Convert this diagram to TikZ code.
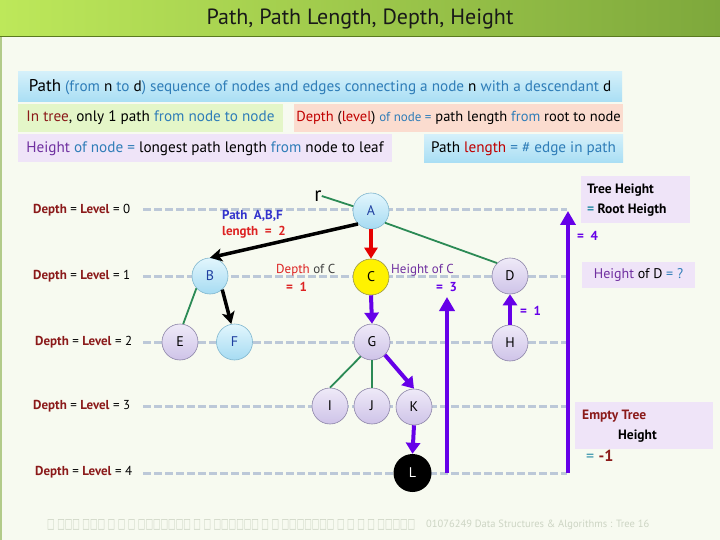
\documentclass[tikz,border=0pt]{standalone}
\usepackage{fontspec}
\setmainfont{PT Sans}
\newfontfamily\dejavu{DejaVu Sans}
\usetikzlibrary{arrows.meta}
\definecolor{bgc}{HTML}{F7FAF0}
\definecolor{dr}{HTML}{8B1A1A}
\definecolor{rd}{HTML}{C00000}
\definecolor{bt}{HTML}{2F7DB8}
\definecolor{pu}{HTML}{7030A0}
\definecolor{vio}{HTML}{6600E8}
\definecolor{grn}{HTML}{2B8A55}
\definecolor{dashc}{HTML}{BCC8D8}
\definecolor{nblue}{HTML}{1F3FA0}
\definecolor{lbtop}{HTML}{E2F6FD}
\definecolor{lbbot}{HTML}{A6DBF2}
\definecolor{lbdraw}{HTML}{7FB6CE}
\definecolor{lvtop}{HTML}{EFEAF8}
\definecolor{lvbot}{HTML}{CEC3E8}
\definecolor{lvdraw}{HTML}{8C84A8}
\definecolor{foot}{HTML}{CDD5C4}
\definecolor{tgl}{HTML}{BDE85A}
\definecolor{tgr}{HTML}{7EA83C}
\definecolor{tline}{HTML}{5A7A20}
\definecolor{boxblueT}{HTML}{D4F0FA}
\definecolor{boxblueB}{HTML}{A9DEF4}
\definecolor{boxgreen}{HTML}{E4F6C8}
\definecolor{boxpink}{HTML}{FBDCCF}
\definecolor{boxlav}{HTML}{EFE4F8}
\definecolor{pathblue}{HTML}{3333CC}
\definecolor{lblred}{HTML}{DD2222}
\definecolor{tealeq}{HTML}{2F8FA8}
\begin{document}
\begin{tikzpicture}[x=1pt,y=-1pt,
  every node/.style={inner sep=0pt},
  bnode/.style={circle, minimum size=36pt, draw=lbdraw, line width=0.6pt, top color=lbtop, bottom color=lbbot, font=\fontsize{14}{14}\selectfont, text=nblue},
  lnode/.style={circle, minimum size=36pt, draw=lvdraw, line width=0.6pt, top color=lvtop, bottom color=lvbot, font=\fontsize{14}{14}\selectfont, text=black},
  ynode/.style={circle, minimum size=36pt, draw=black!45!yellow, line width=0.6pt, fill=yellow, font=\fontsize{14}{14}\selectfont, text=black},
  knode/.style={circle, minimum size=38pt, fill=black, font=\fontsize{14}{14}\selectfont, text=white},
  gedge/.style={draw=grn, line width=1.8pt},
  barrow/.style={draw=black, line width=3.5pt, -{Stealth[length=12pt,width=13pt,inset=3pt]}},
  rarrow/.style={draw=red!90!black, line width=3.5pt, -{Triangle[length=11pt,width=13pt]}},
  parrow/.style={draw=vio, line width=4pt, -{Triangle[length=11pt,width=14pt]}},
  bigarrow/.style={draw=vio, line width=4pt, -{Triangle[length=14pt,width=15pt]}},
  dline/.style={draw=dashc, line width=3pt, dash pattern=on 8pt off 3pt},
  boxtxt/.style={font=\fontsize{15.2}{15.2}\selectfont},
  deplab/.style={anchor=west, font=\fontsize{13}{13}\selectfont},
]
\useasboundingbox (0,0) rectangle (720,540);
\fill[bgc] (0,0) rectangle (720,540);
\draw[line width=1.5pt, color=tgr!60!white] (1,37) -- (1,540);
% title bar
\shade[left color=tgl, right color=tgr] (0,0) rectangle (720,37);
\draw[tline, line width=1pt] (0,37) -- (720,37);
\node[font=\fontsize{22}{22}\selectfont, text=black!90] (title) at (360,19) {Path, Path Length, Depth, Height};

% info boxes
\node[boxtxt, top color=boxblueT, bottom color=boxblueB, minimum width=604pt, minimum height=30pt] (p1) at (320,87)
 {{\fontsize{17}{17}\selectfont Path} \textcolor{bt}{(from} n \textcolor{bt}{to} d\textcolor{bt}{)} \textcolor{bt}{sequence of nodes and edges connecting a node} n \textcolor{bt}{with a descendant} d};
\node[boxtxt, fill=boxgreen, minimum width=265pt, minimum height=28pt] (p2) at (150.5,118)
 {\textcolor{dr}{In tree}, only 1 path \textcolor{bt}{from node to node}};
\node[font=\fontsize{14.5}{14.5}\selectfont, fill=boxpink, minimum width=329pt, minimum height=28pt] (p3) at (458.5,118)
 {\textcolor{rd}{Depth} (\textcolor{rd}{level}) \textcolor{bt}{\fontsize{13}{13}\selectfont of node =} path length \textcolor{bt}{from} root to node};
\node[boxtxt, fill=boxlav, minimum width=374pt, minimum height=28pt] (p4) at (205,148.5)
 {\textcolor{pu}{Height} \textcolor{bt}{of node =} longest path length \textcolor{bt}{from} node to leaf};
\node[boxtxt, top color=boxblueT, bottom color=boxblueB, minimum width=199pt, minimum height=28pt] (p5) at (523.5,148.5)
 {Path \textcolor{rd}{length} \textcolor{bt}{= \# edge in path}};

% depth row labels
\node[deplab] (d0) at (33,210) {\textcolor{dr}{\bfseries Depth} = \textcolor{dr}{\bfseries Level} = 0};
\node[deplab] (d1) at (33,276) {\textcolor{dr}{\bfseries Depth} = \textcolor{dr}{\bfseries Level} = 1};
\node[deplab] (d2) at (35,342) {\textcolor{dr}{\bfseries Depth} = \textcolor{dr}{\bfseries Level} = 2};
\node[deplab] (d3) at (33,406) {\textcolor{dr}{\bfseries Depth} = \textcolor{dr}{\bfseries Level} = 3};
\node[deplab] (d4) at (35,472) {\textcolor{dr}{\bfseries Depth} = \textcolor{dr}{\bfseries Level} = 4};

% dashed level lines
\foreach \yy/\nm in {210/0,276/1,342/2,406/3,473/4}{
  \coordinate (ls\nm) at (143,\yy);
  \coordinate (le\nm) at (567,\yy);
  \draw[dline] (ls\nm) -- (le\nm);
}

% side boxes
\node[fill=boxlav, minimum width=109pt, minimum height=47pt] (thbox) at (635.5,199.5) {};
\node[anchor=west, align=left, font=\bfseries\fontsize{13.5}{20}\selectfont] (thtxt) at (587,200) {Tree Height\\\textcolor{tealeq}{=} Root Heigth};
\node[fill=boxlav, minimum width=113pt, minimum height=26pt, font=\fontsize{14}{14}\selectfont] (hdbox) at (638.5,275) {\textcolor{pu}{Height} of D \textcolor{bt}{= ?}};
\node[fill=boxlav, minimum width=138pt, minimum height=47pt] (etbox) at (644,425.5) {};
\node[anchor=west, font=\bfseries\fontsize{13.5}{14}\selectfont, text=dr] (ettxt1) at (582,416) {Empty Tree};
\node[anchor=west, font=\bfseries\fontsize{13.5}{14}\selectfont] (ettxt2) at (618,436) {Height};
\node[anchor=west, font=\fontsize{16}{16}\selectfont] (etval) at (586,456) {\textcolor{tealeq}{=} \textcolor{dr}{\bfseries -1}};

% tree nodes
\node[bnode] (A) at (371,211) {A};
\node[bnode] (B) at (210,276) {B};
\node[ynode] (C) at (371,277) {C};
\node[lnode] (D) at (510,276) {D};
\node[lnode] (E) at (180,342) {E};
\node[bnode] (F) at (234.5,342) {F};
\node[lnode] (G) at (372,342) {G};
\node[lnode] (H) at (510,343) {H};
\node[lnode] (I) at (330,406) {I};
\node[lnode] (J) at (372,406) {J};
\node[lnode] (K) at (414,407) {K};
\node[knode] (L) at (412.5,473) {L};
\node[font=\fontsize{21}{21}\selectfont] (r) at (318,196) {r};

% edges
\draw[gedge] (r.east) -- (A.165);
\draw[gedge] (A.-40) -- (D.135);
\draw[gedge] (B.222) -- (E.80);
\draw[gedge] (G.232) -- (I.north);
\draw[gedge] (G.south) -- (J.north);
\draw[barrow] (A.225) -- (B.north);
\draw[barrow] (B.-48) -- (F.100);
\draw[rarrow] (A.south) -- (C.north);
\draw[parrow] (C.south) -- (G.north);
\draw[parrow] (G.-45) -- (K.north);
\draw[parrow] (K.south) -- (L.north);
\draw[parrow] (H.north) -- (D.south);

% big height arrows
\coordinate (h3b) at (447,473);
\coordinate (h3t) at (447,297);
\coordinate (h4b) at (568,473);
\coordinate (h4t) at (568,211);
\draw[bigarrow] (h3b) -- (h3t);
\draw[bigarrow] (h4b) -- (h4t);

% annotations
\node[anchor=west, font=\bfseries\fontsize{13}{13}\selectfont, text=pathblue] (pabf) at (222,216) {Path\ \ A,B,F};
\node[anchor=west, font=\bfseries\fontsize{13}{13}\selectfont, text=lblred] (plen) at (222,232) {length\ \ =\ \ 2};
\node[anchor=west, font=\fontsize{13}{13}\selectfont] (dofc) at (276,270) {\textcolor{lblred}{Depth} \textcolor{black!75}{of C}};
\node[anchor=west, font=\bfseries\fontsize{13}{13}\selectfont, text=lblred] (dofcv) at (286,287) {=\ \ 1};
\node[anchor=west, font=\fontsize{13}{13}\selectfont, text=pu] (hofc) at (391,270) {Height of C};
\node[anchor=west, font=\bfseries\fontsize{13}{13}\selectfont, text=vio] (hofcv) at (436,287) {=\ \ 3};
\node[anchor=west, font=\bfseries\fontsize{13}{13}\selectfont, text=vio] (hofdv) at (520,311) {=\ \ 1};
\node[anchor=west, font=\bfseries\fontsize{13}{13}\selectfont, text=vio] (treev) at (577,236) {=\ \ 4};

% footer
\node[anchor=west, text=foot] (ft1) at (47,525) {\resizebox{368pt}{9pt}{\dejavu □ □□□ □□□ □ □ □ □□□□□□□ □ □ □□□□□□ □ □ □□□□□□□ □ □ □ □ □□□□□}};
\node[anchor=west, text=foot, font=\fontsize{10.5}{10.5}\selectfont] (ft2) at (426,525) {01076249 Data Structures \& Algorithms : Tree 16};
\end{tikzpicture}
\end{document}
